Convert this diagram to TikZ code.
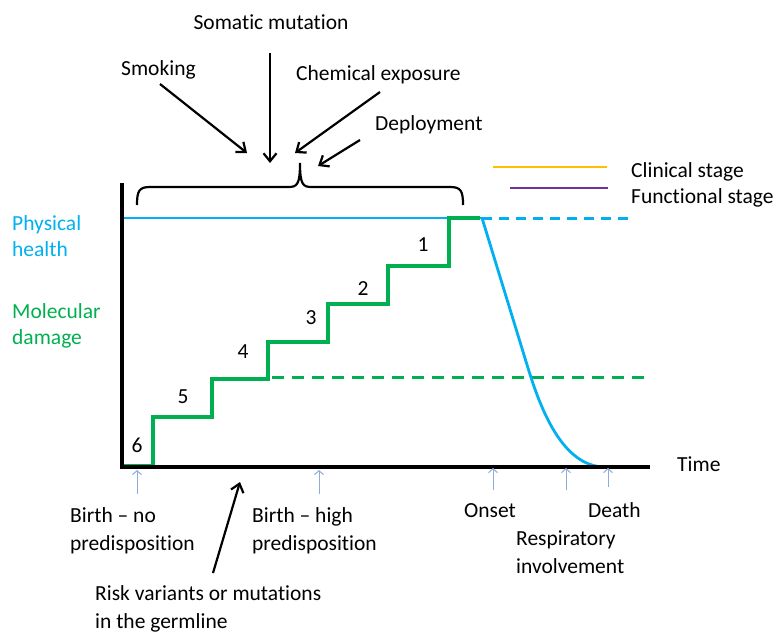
\documentclass[tikz,border=0pt]{standalone}
\usepackage{fontspec}
\setmainfont[Ligatures=NoCommon]{Carlito}
\usetikzlibrary{arrows.meta}
\definecolor{hblue}{RGB}{0,176,240}
\definecolor{mgreen}{RGB}{0,176,80}
\definecolor{cyel}{RGB}{255,192,0}
\definecolor{fpurp}{RGB}{112,48,160}
\definecolor{tick}{RGB}{143,170,220}
\begin{document}
\begin{tikzpicture}[x=1pt,y=-1pt,
  lbl/.style={font=\fontsize{21.5}{28}\selectfont, inner sep=0pt, anchor=base west},
  num/.style={font=\fontsize{21.5}{28}\selectfont, inner sep=0pt, anchor=base},
  bigarrow/.style={line width=2.2pt, -{Straight Barb[length=8pt,width=13pt,line width=2.2pt]}},
  smallarrow/.style={tick, line width=1pt, -{Straight Barb[length=4pt,width=9pt,line width=1pt]}},
  axis/.style={line width=3.2pt, line cap=rect},
  stair/.style={mgreen, line width=3.2pt},
  health/.style={hblue, line width=2.8pt},
  dashgreen/.style={mgreen, line width=3pt, dash pattern=on 12pt off 8pt},
  dashblue/.style={hblue, line width=3pt, dash pattern=on 10pt off 7pt}]
\useasboundingbox (0,0) rectangle (773,634);

% labels top
\node[num] (soma) at (271,30) {Somatic mutation};
\node[lbl] (smok) at (121,75) {Smoking};
\node[lbl] (chem) at (296,80) {Chemical exposure};
\node[lbl] (depl) at (375,130) {Deployment};

% arrows to brace
\coordinate (smokS) at (160,84);
\coordinate (smokE) at (247,153);
\coordinate (somaS) at (270,53);
\coordinate (somaE) at (270,163);
\coordinate (chemS) at (380,92);
\coordinate (chemE) at (295,153);
\coordinate (deplS) at (360,140);
\coordinate (deplE) at (318,166);
\draw[bigarrow] (smokS) -- (smokE);
\draw[bigarrow] (somaS) -- (somaE);
\draw[bigarrow] (chemS) -- (chemE);
\draw[bigarrow] (deplS) -- (deplE);

% brace
\draw[line width=2.2pt] (137,205) .. controls (137,191) and (139,187) .. (150,187) -- (288,187)
  .. controls (297,187) and (300,185) .. (300,163)
  .. controls (300,185) and (303,187) .. (312,187) -- (450,187)
  .. controls (461,187) and (463,191) .. (463,205);

% legend
\draw[cyel, line width=2.8pt] (493,167) -- (607,167);
\draw[fpurp, line width=2.8pt] (510,188) -- (608,188);
\node[lbl] (clin) at (631,177) {Clinical stage};
\node[lbl] (func) at (631,203) {Functional stage};

% left labels
\node[lbl, text=hblue] (ph1) at (12,230) {Physical};
\node[lbl, text=hblue] (ph2) at (12,256) {health};
\node[lbl, text=mgreen] (md1) at (12,318) {Molecular};
\node[lbl, text=mgreen] (md2) at (12,344) {damage};

% health lines
\coordinate (on) at (482,218);
\draw[health] (122,218) -- (on);
\draw[dashblue] (on) -- (628,218);
\draw[dashgreen] (272,377) -- (650,377);
\draw[health] (on) -- (528,368) .. controls (540,407) and (562,467) .. (605,467) -- (648,467);

% staircase
\draw[stair] (123,466) -- (153,466) -- (153,417) -- (212,417) -- (212,379) -- (268,379)
  -- (268,342) -- (328,342) -- (328,304) -- (388,304) -- (388,266) -- (449,266)
  -- (449,218) -- (480,218);

% axes
\draw[axis] (122,185) -- (122,467) -- (648,467);
\node[lbl] (time) at (677,471) {Time};

% numbers
\node[num] (n6) at (137,452) {6};
\node[num] (n5) at (183,403) {5};
\node[num] (n4) at (243,358) {4};
\node[num] (n3) at (311,324) {3};
\node[num] (n2) at (363,295) {2};
\node[num] (n1) at (423,251) {1};

% small arrows
\coordinate (t1s) at (137,494); \coordinate (t1e) at (137,470);
\coordinate (t2s) at (319,494); \coordinate (t2e) at (319,470);
\coordinate (t3s) at (493,490); \coordinate (t3e) at (493,468);
\coordinate (t4s) at (566,490); \coordinate (t4e) at (566,468);
\coordinate (t5s) at (608,487); \coordinate (t5e) at (608,468);
\draw[smallarrow] (t1s) -- (t1e);
\draw[smallarrow] (t2s) -- (t2e);
\draw[smallarrow] (t3s) -- (t3e);
\draw[smallarrow] (t4s) -- (t4e);
\draw[smallarrow] (t5s) -- (t5e);

% bottom labels
\node[lbl] (bn1) at (70,522) {Birth -- no};
\node[lbl] (bn2) at (70,550) {predisposition};
\node[lbl] (bh1) at (252,522) {Birth -- high};
\node[lbl] (bh2) at (252,550) {predisposition};
\node[lbl] (ons) at (464,517) {Onset};
\node[lbl] (dth) at (588,517) {Death};
\node[lbl] (res1) at (516,545) {Respiratory};
\node[lbl] (res2) at (516,573) {involvement};
\node[lbl] (risk1) at (95,600) {Risk variants or mutations};
\node[lbl] (risk2) at (95,628) {in the germline};

\coordinate (riskS) at (213,573);
\coordinate (riskE) at (240,482);
\draw[bigarrow] (riskS) -- (riskE);
\end{tikzpicture}
\end{document}
